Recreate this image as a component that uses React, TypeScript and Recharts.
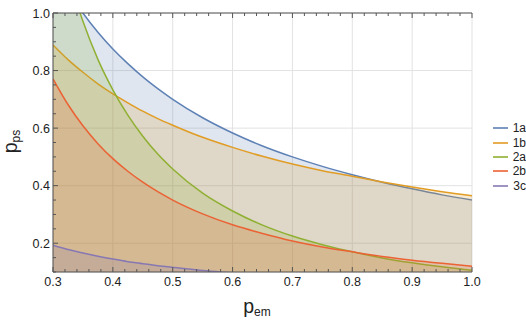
import { ComposedChart, Area, XAxis, YAxis, CartesianGrid, Legend } from 'recharts'

// values
const pEm = [0.3, 0.325, 0.35, 0.375, 0.4, 0.425, 0.45, 0.475, 0.5, 0.55, 0.6, 0.65, 0.7, 0.75, 0.8, 0.85, 0.9, 0.95, 1.0]
const s1a = [1.167, 1.077, 1.0, 0.933, 0.875, 0.824, 0.778, 0.737, 0.7, 0.636, 0.583, 0.538, 0.5, 0.467, 0.438, 0.412, 0.389, 0.368, 0.35]
const s1b = [0.889, 0.838, 0.794, 0.754, 0.719, 0.688, 0.659, 0.633, 0.61, 0.568, 0.533, 0.502, 0.475, 0.452, 0.433, 0.413, 0.395, 0.379, 0.365]
const s2a = [1.344, 1.136, 0.971, 0.839, 0.733, 0.645, 0.572, 0.51, 0.458, 0.374, 0.312, 0.263, 0.225, 0.195, 0.17, 0.149, 0.132, 0.118, 0.106]
const s2b = [0.771, 0.682, 0.608, 0.546, 0.494, 0.45, 0.412, 0.379, 0.35, 0.302, 0.264, 0.234, 0.208, 0.187, 0.17, 0.154, 0.141, 0.13, 0.12]
const s3c = [0.193, 0.178, 0.166, 0.155, 0.145, 0.136, 0.129, 0.122, 0.116, 0.105, 0.097, 0.089, 0.083, 0.077, 0.073, 0.068, 0.064, 0.061, 0.058]

const seriesNames = ['1a', '1b', '2a', '2b', '3c']
const seriesColors = ['#5E81B5', '#E19C24', '#8FB032', '#EB6235', '#8778B3']
const seriesValues = [s1a, s1b, s2a, s2b, s3c]

const xMajor = [0.3, 0.4, 0.5, 0.6, 0.7, 0.8, 0.9, 1.0]
const xTicks = [0.3, 0.32, 0.34, 0.36, 0.38, 0.4, 0.42, 0.44, 0.46, 0.48, 0.5, 0.52, 0.54, 0.56, 0.58, 0.6, 0.62, 0.64, 0.66, 0.68, 0.7, 0.72, 0.74, 0.76, 0.78, 0.8, 0.82, 0.84, 0.86, 0.88, 0.9, 0.92, 0.94, 0.96, 0.98, 1.0]
const yMajor = [0.2, 0.4, 0.6, 0.8, 1.0]
const yTicks = [0.1, 0.15, 0.2, 0.25, 0.3, 0.35, 0.4, 0.45, 0.5, 0.55, 0.6, 0.65, 0.7, 0.75, 0.8, 0.85, 0.9, 0.95, 1.0]

const data = pEm.map((x, i) => {
  const row: any = { x }
  seriesNames.forEach((n, k) => { row[n] = seriesValues[k][i] })
  return row
})

const FONT = '"Liberation Sans", Arial, sans-serif'
const FRAME = '#555'
const TXT = '#222'

const isIn = (v: number, list: number[]) => list.some(m => Math.abs(m - v) < 1e-6)

const BottomTick = ({ x, y, payload }: any) => {
  const major = isIn(payload.value, xMajor)
  return (
    <g>
      <line x1={x} x2={x} y1={y} y2={y - (major ? 5 : 3)} stroke={FRAME} />
      {major && (
        <text x={x} y={y + 14} textAnchor="middle" fontSize={12.5} fontFamily={FONT} fill={TXT}>
          {payload.value.toFixed(1)}
        </text>
      )}
    </g>
  )
}

const TopTick = ({ x, y, payload }: any) => {
  const major = isIn(payload.value, xMajor)
  return <line x1={x} x2={x} y1={y} y2={y + (major ? 5 : 3)} stroke={FRAME} />
}

const LeftTick = ({ x, y, payload }: any) => {
  const major = isIn(payload.value, yMajor)
  return (
    <g>
      <line x1={x} x2={x + (major ? 5 : 3)} y1={y} y2={y} stroke={FRAME} />
      {major && (
        <text x={x - 3} y={y} dy="0.36em" textAnchor="end" fontSize={12.5} fontFamily={FONT} fill={TXT}>
          {payload.value.toFixed(1)}
        </text>
      )}
    </g>
  )
}

const RightTick = ({ x, y, payload }: any) => {
  const major = isIn(payload.value, yMajor)
  return <line x1={x} x2={x - (major ? 5 : 3)} y1={y} y2={y} stroke={FRAME} />
}

const XLabel = ({ viewBox }: any) => (
  <text x={viewBox.x + viewBox.width / 2 - 5.5} y={viewBox.y + 41} textAnchor="middle" fontFamily={FONT} fill={TXT}>
    <tspan fontSize={19.5}>p</tspan>
    <tspan fontSize={12} dy={3}>em</tspan>
  </text>
)

const YLabel = ({ viewBox }: any) => (
  <text transform={`translate(16.5, ${viewBox.y + viewBox.height / 2 - 1}) rotate(-90)`} textAnchor="middle" fontFamily={FONT} fill={TXT}>
    <tspan fontSize={19.5}>p</tspan>
    <tspan fontSize={12} dy={3}>ps</tspan>
  </text>
)

const renderLegend = ({ payload }: any) => (
  <div style={{ fontFamily: FONT, fontSize: 12, color: TXT }}>
    {(payload || []).map((p: any) => (
      <div key={p.value} style={{ display: 'flex', alignItems: 'center', height: 14.4, paddingLeft: 21 }}>
        <svg width={17} height={4} style={{ display: 'block' }}>
          <line x1={0} y1={2} x2={17} y2={2} stroke={p.color} strokeWidth={1.6} />
        </svg>
        <span style={{ marginLeft: 5, lineHeight: '14px' }}>{p.value}</span>
      </div>
    ))}
  </div>
)

export default function App() {
  return (
    <div style={{ position: 'absolute', left: 0, top: 0, background: '#fff' }}>
      <ComposedChart width={526} height={320} data={data} margin={{ top: 0, right: 0, bottom: 0, left: 0 }}>
        <CartesianGrid xAxisId="grid" yAxisId="grid" stroke="#e2e2e2" strokeWidth={1} />
        <XAxis
          dataKey="x" type="number" domain={[0.3, 1]} allowDataOverflow
          ticks={xTicks} interval={0} height={48}
          axisLine={{ stroke: FRAME }} tickLine={false} tickSize={0} tickMargin={0}
          tick={<BottomTick />}
          label={{ content: <XLabel /> }}
        />
        <XAxis
          xAxisId="top" orientation="top" dataKey="x" type="number" domain={[0.3, 1]} allowDataOverflow
          ticks={xTicks} interval={0} height={13}
          axisLine={{ stroke: FRAME }} tickLine={false} tickSize={0} tickMargin={0}
          tick={<TopTick />}
        />
        <XAxis xAxisId="grid" hide type="number" dataKey="x" domain={[0.3, 1]} allowDataOverflow ticks={xMajor} interval={0} />
        <YAxis
          type="number" domain={[0.1, 1]} allowDataOverflow
          ticks={yTicks} interval={0} width={53}
          axisLine={{ stroke: FRAME }} tickLine={false} tickSize={0} tickMargin={0}
          tick={<LeftTick />}
          label={{ content: <YLabel /> }}
        />
        <YAxis
          yAxisId="right" orientation="right" type="number" domain={[0.1, 1]} allowDataOverflow
          ticks={yTicks} interval={0} width={0}
          axisLine={{ stroke: FRAME }} tickLine={false} tickSize={0} tickMargin={0}
          tick={<RightTick />}
        />
        <YAxis yAxisId="grid" hide type="number" domain={[0.1, 1]} allowDataOverflow ticks={yMajor} interval={0} />
        {seriesNames.map((n, k) => (
          <Area
            key={n}
            dataKey={n}
            name={n}
            type="monotone"
            baseValue="dataMin"
            stroke={seriesColors[k]}
            strokeWidth={1.5}
            fill={seriesColors[k]}
            fillOpacity={0.2}
            dot={false}
            activeDot={false}
            legendType="line"
            isAnimationActive={false}
          />
        ))}
        <Legend
          layout="vertical" align="right" verticalAlign="middle"
          content={renderLegend}
          wrapperStyle={{ width: 54, top: 121, right: 0 }}
        />
      </ComposedChart>
    </div>
  )
}
